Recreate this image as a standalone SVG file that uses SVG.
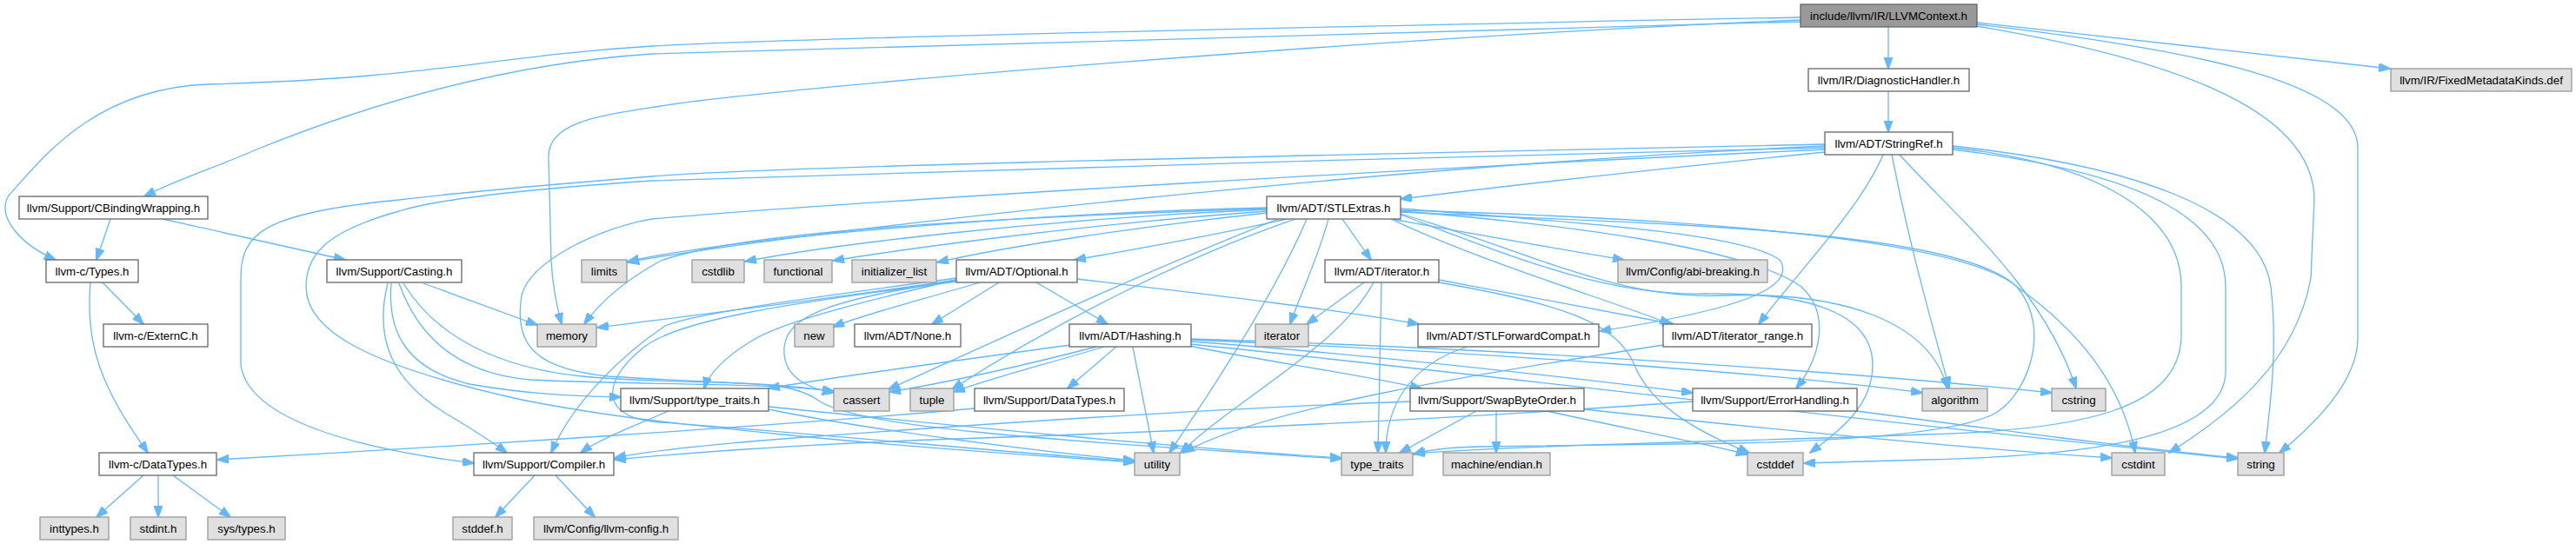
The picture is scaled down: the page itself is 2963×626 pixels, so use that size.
<svg xmlns="http://www.w3.org/2000/svg" width="2963" height="626" viewBox="0 0 2963 626">
<style>
.n rect{fill:#ffffff;stroke:#666666;stroke-width:1.3}
.g rect{fill:#e0e0e0;stroke:#999999;stroke-width:1.3}
.r rect{fill:#999999;stroke:#666666;stroke-width:1.3}
text{font-family:"Liberation Sans",Arial,sans-serif;font-size:13.3px;text-anchor:middle;fill:#000}
#edges path{fill:none;stroke:#63b8ff;stroke-width:1.3;marker-end:url(#a)}
</style>
<defs>
<marker id="a" markerUnits="userSpaceOnUse" viewBox="0 0 14 10" markerWidth="14" markerHeight="10" refX="13" refY="5" orient="auto">
<path d="M0,0 L14,5 L0,10 z" fill="#63b8ff" stroke="#63b8ff"/>
</marker>
</defs>
<rect width="2963" height="626" fill="#ffffff"/>
<g id="edges">
<!-- root -->
<path d="M2172,31 L2172,79"/>
<path d="M2172,105 L2172,152"/>
<path d="M2274,26 C2450,45 2650,68 2749,79"/>
<path d="M2274,28 C2500,55 2712,90 2712,170 L2712,389 C2712,440 2660,490 2622,521"/>
<path d="M2274,30 C2480,65 2662,120 2662,230 L2658,320 C2640,420 2560,480 2495,521"/>
<path d="M2071,23 C1600,42 900,100 760,122 C690,133 631,140 631,180 L634,300 C636,335 641,355 646,373"/>
<path d="M2071,25 C1500,40 900,55 750,62 C600,72 450,110 300,170 C250,192 200,208 166,226"/>
<path d="M2071,20 C1400,33 900,45 750,53 C560,65 500,90 239,97 C110,102 50,180 10,225 C-5,250 25,282 64,299"/>
<!-- CBindingWrapping -->
<path d="M127,252 L111,299"/>
<path d="M187,252 L397,299"/>
<!-- Types.h -->
<path d="M118,325 L165,373"/>
<path d="M104,325 C100,375 108,412 125,447 C140,480 158,503 170,521"/>
<!-- llvm-c/DataTypes -->
<path d="M165,547 L111,595"/>
<path d="M182,547 L182,595"/>
<path d="M199,547 L265,595"/>
<!-- Compiler -->
<path d="M615,547 L570,595"/>
<path d="M639,547 L684,595"/>
<!-- Casting -->
<path d="M487,326 L618,374"/>
<path d="M446,326 C430,390 450,440 520,480 C545,495 565,508 583,521"/>
<path d="M450,326 C445,385 470,425 540,442 C620,456 680,456 714,457"/>
<path d="M459,326 C480,385 525,430 610,437 C720,443 870,440 959,450"/>
<path d="M464,326 C500,385 570,425 680,434 C820,445 900,432 940,460 C985,492 1200,506 1543,528"/>
<!-- StringRef -->
<path d="M2099,175 C1900,195 1700,218 1611,229"/>
<path d="M2166,178 C2140,240 2070,310 2023,373"/>
<path d="M2176,178 C2200,300 2225,380 2242,447"/>
<path d="M2185,178 C2250,250 2350,330 2388,447"/>
<path d="M2246,168 C2450,190 2600,240 2612,330 C2620,400 2612,460 2605,521"/>
<path d="M2246,170 C2420,188 2509,250 2509,330 L2509,389 C2505,470 2400,495 2213,500 C2000,508 1750,512 1626,522"/>
<path d="M2246,172 C2460,198 2560,250 2560,330 L2560,430 C2555,505 2400,525 2213,529 L2075,533"/>
<path d="M2099,168 C1600,190 900,268 722,302"/>
<path d="M2099,166 C1700,175 900,190 750,203 C600,215 500,225 459,230 C300,245 277,270 277,320 L277,420 C285,480 400,515 545,533"/>
<path d="M2099,170 C1700,180 900,200 750,208 C600,218 500,230 459,243 C380,265 352,290 352,330 C352,380 420,420 600,460 C700,480 800,490 900,500 C1050,515 1200,525 1305,532"/>
<path d="M2099,172 C1700,190 1000,230 750,252 C690,262 610,300 600,340 C590,400 620,425 700,433 C800,440 900,440 959,451"/>
<!-- STLExtras -->
<path d="M1480,252 C1400,270 1300,288 1236,299"/>
<path d="M1457,245 C1300,262 1150,285 1078,302"/>
<path d="M1457,243 C1250,258 1050,285 958,300"/>
<path d="M1457,241 C1200,252 950,282 857,301"/>
<path d="M1457,239 C1200,245 850,272 722,301"/>
<path d="M1457,240 C1100,252 850,268 760,300 C720,322 690,348 672,373"/>
<path d="M1544,252 L1577,299"/>
<path d="M1528,252 C1515,300 1495,340 1484,373"/>
<path d="M1600,252 C1700,270 1800,288 1868,299"/>
<path d="M1611,240 C1800,255 2010,268 2048,300 C2064,330 2010,355 1840,381"/>
<path d="M1600,252 C1700,300 1850,345 1922,373"/>
<path d="M1611,243 C1800,258 2010,285 2072,330 C2105,360 2095,410 2066,447"/>
<path d="M1611,246 C1760,290 1860,345 1980,340 C2120,335 2220,370 2240,447"/>
<path d="M1611,242 C1900,250 2250,270 2320,330 C2390,380 2440,440 2456,521"/>
<path d="M1611,247 C1750,300 1850,340 1960,338 C2080,336 2154,360 2154,420 C2154,470 2110,500 2082,521"/>
<path d="M1611,244 C1900,258 2250,262 2320,330 C2362,380 2330,460 2290,478 C2250,496 2150,506 2000,510 L1700,514 C1660,515 1640,518 1626,523"/>
<path d="M1490,252 C1350,300 1200,380 1095,448"/>
<path d="M1470,252 C1300,320 1150,390 1022,448"/>
<path d="M1503,252 C1470,330 1400,440 1345,521"/>
<!-- Optional -->
<path d="M1127,325 C1060,345 1000,360 958,376"/>
<path d="M1149,325 L1072,373"/>
<path d="M1192,325 L1274,373"/>
<path d="M1239,321 C1400,340 1550,358 1632,373"/>
<path d="M1100,322 C950,345 780,365 687,377"/>
<path d="M1100,320 C950,340 800,360 765,375 C720,405 660,460 634,521"/>
<path d="M1100,322 C1000,345 900,370 865,392 C835,410 815,430 810,447"/>
<path d="M1100,323 C950,345 905,365 902,400 C900,432 925,446 959,452"/>
<path d="M1100,324 C900,350 780,368 740,400 C690,440 690,482 760,486 C950,500 1150,520 1305,531"/>
<!-- Hashing -->
<path d="M1284,399 L1228,447"/>
<path d="M1303,399 L1327,521"/>
<path d="M1261,399 C1180,420 1090,440 1023,451"/>
<path d="M1270,399 C1200,420 1140,435 1097,451"/>
<path d="M1231,397 C1100,415 950,435 884,447"/>
<path d="M1368,398 C1450,415 1560,430 1635,447"/>
<path d="M1370,393 C1600,410 1850,440 1947,452"/>
<path d="M1370,391 C1700,405 2050,430 2211,452"/>
<path d="M1370,390 C1700,400 2100,425 2360,452"/>
<path d="M1370,396 C1700,430 2100,480 2574,528"/>
<!-- iterator.h -->
<path d="M1569,325 L1503,373"/>
<path d="M1589,325 C1588,400 1586,470 1585,521"/>
<path d="M1580,325 C1540,400 1420,460 1358,521"/>
<path d="M1655,322 C1750,340 1850,358 1925,373"/>
<path d="M1655,325 C1800,350 1860,372 1880,420 C1900,470 1960,500 2012,521"/>
<!-- STLForwardCompat -->
<path d="M1688,399 C1620,420 1594,470 1594,521"/>
<!-- iterator_range -->
<path d="M1913,397 C1700,430 1450,470 1361,521"/>
<!-- SwapByteOrder -->
<path d="M1698,473 L1610,521"/>
<path d="M1721,473 L1721,521"/>
<path d="M1779,473 C1880,495 1960,510 2010,523"/>
<path d="M1822,471 C2000,490 2250,515 2429,527"/>
<path d="M1622,462 C1400,470 1100,490 900,505 C800,513 740,520 707,527"/>
<!-- ErrorHandling -->
<path d="M1947,462 C1700,480 1400,495 1100,505 C900,512 780,522 707,529"/>
<path d="M2136,473 C2300,495 2450,515 2574,527"/>
<!-- llvm/Support/type_traits.h -->
<path d="M769,473 C730,490 690,505 668,521"/>
<path d="M884,468 C1100,490 1350,515 1543,527"/>
<path d="M884,471 C1000,495 1200,520 1305,530"/>
<!-- llvm/Support/DataTypes.h -->
<path d="M1121,470 C900,490 500,515 250,529"/>
</g>
<g id="n_root" class="r"><rect x="2071" y="5" width="203" height="26"/><text x="2172.5" y="23">include/llvm/IR/LLVMContext.h</text></g>
<g id="n_diag" class="n"><rect x="2080" y="79" width="185" height="26"/><text x="2172.5" y="97">llvm/IR/DiagnosticHandler.h</text></g>
<g id="n_fixedmd" class="g"><rect x="2750" y="79" width="208" height="26"/><text x="2854" y="97">llvm/IR/FixedMetadataKinds.def</text></g>
<g id="n_stringref" class="n"><rect x="2099" y="152" width="147" height="26"/><text x="2172.5" y="170">llvm/ADT/StringRef.h</text></g>
<g id="n_cbw" class="n"><rect x="22" y="226" width="217" height="26"/><text x="130.5" y="244">llvm/Support/CBindingWrapping.h</text></g>
<g id="n_stlextras" class="n"><rect x="1457" y="226" width="154" height="26"/><text x="1534" y="244">llvm/ADT/STLExtras.h</text></g>
<g id="n_types" class="n"><rect x="53" y="299" width="106" height="26"/><text x="106" y="317">llvm-c/Types.h</text></g>
<g id="n_casting" class="n"><rect x="376" y="299" width="155" height="26"/><text x="453.5" y="317">llvm/Support/Casting.h</text></g>
<g id="n_limits" class="g"><rect x="669" y="299" width="52" height="26"/><text x="695" y="317">limits</text></g>
<g id="n_cstdlib" class="g"><rect x="796" y="299" width="60" height="26"/><text x="826" y="317">cstdlib</text></g>
<g id="n_functional" class="g"><rect x="879" y="299" width="78" height="26"/><text x="918" y="317">functional</text></g>
<g id="n_initlist" class="g"><rect x="980" y="299" width="97" height="26"/><text x="1028.5" y="317">initializer_list</text></g>
<g id="n_optional" class="n"><rect x="1100" y="299" width="139" height="26"/><text x="1169.5" y="317">llvm/ADT/Optional.h</text></g>
<g id="n_iteratorh" class="n"><rect x="1524" y="299" width="131" height="26"/><text x="1589.5" y="317">llvm/ADT/iterator.h</text></g>
<g id="n_abi" class="g"><rect x="1861" y="299" width="172" height="26"/><text x="1947" y="317">llvm/Config/abi-breaking.h</text></g>
<g id="n_externc" class="n"><rect x="119" y="373" width="120" height="26"/><text x="179" y="391">llvm-c/ExternC.h</text></g>
<g id="n_memory" class="g"><rect x="618" y="373" width="68" height="26"/><text x="652" y="391">memory</text></g>
<g id="n_new" class="g"><rect x="914" y="373" width="45" height="26"/><text x="936.5" y="391">new</text></g>
<g id="n_none" class="n"><rect x="983" y="373" width="122" height="26"/><text x="1044" y="391">llvm/ADT/None.h</text></g>
<g id="n_hashing" class="n"><rect x="1230" y="373" width="140" height="26"/><text x="1300" y="391">llvm/ADT/Hashing.h</text></g>
<g id="n_iterator" class="g"><rect x="1444" y="373" width="61" height="26"/><text x="1474.5" y="391">iterator</text></g>
<g id="n_stlfwd" class="n"><rect x="1631" y="373" width="208" height="26"/><text x="1735" y="391">llvm/ADT/STLForwardCompat.h</text></g>
<g id="n_iterrange" class="n"><rect x="1913" y="373" width="171" height="26"/><text x="1998.5" y="391">llvm/ADT/iterator_range.h</text></g>
<g id="n_typetraitsh" class="n"><rect x="714" y="447" width="170" height="26"/><text x="799" y="465">llvm/Support/type_traits.h</text></g>
<g id="n_cassert" class="g"><rect x="959" y="447" width="64" height="26"/><text x="991" y="465">cassert</text></g>
<g id="n_tuple" class="g"><rect x="1047" y="447" width="50" height="26"/><text x="1072" y="465">tuple</text></g>
<g id="n_sdatatypes" class="n"><rect x="1121" y="447" width="172" height="26"/><text x="1207" y="465">llvm/Support/DataTypes.h</text></g>
<g id="n_swapbo" class="n"><rect x="1622" y="447" width="200" height="26"/><text x="1722" y="465">llvm/Support/SwapByteOrder.h</text></g>
<g id="n_errh" class="n"><rect x="1947" y="447" width="189" height="26"/><text x="2041.5" y="465">llvm/Support/ErrorHandling.h</text></g>
<g id="n_algorithm" class="g"><rect x="2211" y="447" width="75" height="26"/><text x="2248.5" y="465">algorithm</text></g>
<g id="n_cstring" class="g"><rect x="2360" y="447" width="62" height="26"/><text x="2391" y="465">cstring</text></g>
<g id="n_cdatatypes" class="n"><rect x="114" y="521" width="135" height="26"/><text x="181.5" y="539">llvm-c/DataTypes.h</text></g>
<g id="n_compiler" class="n"><rect x="545" y="521" width="161" height="26"/><text x="625.5" y="539">llvm/Support/Compiler.h</text></g>
<g id="n_utility" class="g"><rect x="1305" y="521" width="52" height="26"/><text x="1331" y="539">utility</text></g>
<g id="n_typetraits" class="g"><rect x="1543" y="521" width="82" height="26"/><text x="1584" y="539">type_traits</text></g>
<g id="n_endian" class="g"><rect x="1660" y="521" width="123" height="26"/><text x="1721.5" y="539">machine/endian.h</text></g>
<g id="n_cstddef" class="g"><rect x="2010" y="521" width="64" height="26"/><text x="2042" y="539">cstddef</text></g>
<g id="n_cstdint" class="g"><rect x="2429" y="521" width="61" height="26"/><text x="2459.5" y="539">cstdint</text></g>
<g id="n_string" class="g"><rect x="2574" y="521" width="53" height="26"/><text x="2600.5" y="539">string</text></g>
<g id="n_inttypes" class="g"><rect x="46" y="595" width="79" height="26"/><text x="85.5" y="613">inttypes.h</text></g>
<g id="n_stdint" class="g"><rect x="150" y="595" width="64" height="26"/><text x="182" y="613">stdint.h</text></g>
<g id="n_systypes" class="g"><rect x="239" y="595" width="89" height="26"/><text x="283.5" y="613">sys/types.h</text></g>
<g id="n_stddef" class="g"><rect x="521" y="595" width="68" height="26"/><text x="555" y="613">stddef.h</text></g>
<g id="n_llvmconfig" class="g"><rect x="614" y="595" width="166" height="26"/><text x="697" y="613">llvm/Config/llvm-config.h</text></g>
</svg>
